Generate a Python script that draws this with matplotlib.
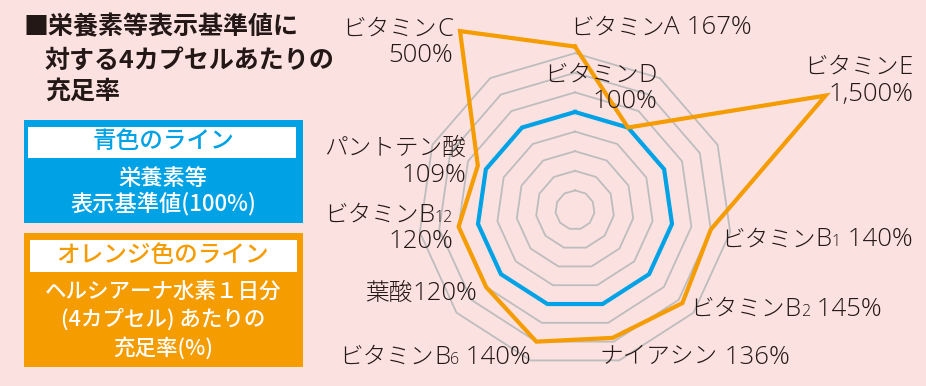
import re
import numpy as np
import matplotlib
matplotlib.use("Agg")
import matplotlib.pyplot as plt
from matplotlib.patches import Rectangle
from matplotlib.offsetbox import TextArea, HPacker, AnnotationBbox

plt.rcParams["font.family"] = ["Noto Sans CJK JP", "DejaVu Sans"]

# data, clockwise from the top
nutrients = ["ビタミンA", "ビタミンD", "ビタミンE", "ビタミンB1", "ビタミンB2", "ナイアシン",
             "ビタミンB6", "葉酸", "ビタミンB12", "パントテン酸", "ビタミンC"]
capsule_pct = [167, 100, 1500, 140, 145, 136, 140, 120, 120, 109, 500]
standard_pct = [100] * len(nutrients)
grid_levels = [20, 40, 60, 80, 100, 120, 140, 160]

title_lines = ["■栄養素等表示基準値に", "対する4カプセルあたりの", "充足率"]
blue_head = "青色のライン"
blue_body = ["栄養素等", "表示基準値(100%)"]
orange_head = "オレンジ色のライン"
orange_body = ["ヘルシアーナ水素１日分", "(4カプセル) あたりの", "充足率(%)"]

BG = "#fce1e1"
BLUE = "#00a2e6"
ORANGE = "#f49c00"
GRID = "#bdbdbd"
TXT = "#231815"

W, H = 926, 386
fig = plt.figure(figsize=(W / 100, H / 100), dpi=100)
fig.patch.set_facecolor(BG)

# radial scale: linear up to the outer ring, compressed beyond it
BREAK, K, P = 160.0, 2.324, 0.549


def fwd(v):
    v = np.asarray(v, float)
    return np.where(v <= BREAK, v, BREAK + K * np.abs(v - BREAK) ** P)


def inv(u):
    u = np.asarray(u, float)
    return np.where(u <= BREAK, u, BREAK + (np.abs(u - BREAK) / K) ** (1 / P))


cx, cy = 575, 210          # centre in image pixels (from top)
px_per = 0.98
r_top = 1600
half = float(fwd(r_top)) * px_per
ax = fig.add_axes([(cx - half) / W, (H - cy - half) / H, 2 * half / W, 2 * half / H],
                  projection="polar")
ax.set_theta_zero_location("N")
ax.set_theta_direction(-1)
ax.set_rscale("function", functions=(fwd, inv))
ax.set_ylim(0, r_top)
ax.set_axis_off()

n = len(nutrients)
theta = np.linspace(0, 2 * np.pi, n, endpoint=False)
theta_c = np.append(theta, theta[0])

for lvl in grid_levels:
    ax.plot(theta_c, [lvl] * (n + 1), color=GRID, lw=1.3, zorder=1, clip_on=False)
ax.plot(theta_c, standard_pct + standard_pct[:1], color=BLUE, lw=3.0, zorder=2,
        clip_on=False, solid_joinstyle="miter")
ax.plot(theta_c, capsule_pct + capsule_pct[:1], color=ORANGE, lw=3.0, zorder=3,
        clip_on=False, solid_joinstyle="miter")

# overlay in image pixel coords for boxes and texts
ov = fig.add_axes([0, 0, 1, 1], zorder=5)
ov.set_xlim(0, W)
ov.set_ylim(H, 0)
ov.set_axis_off()

FS_J, FS_L, FS_SUB = 17, 18.5, 11.5


def runs(text, sub=False):
    out = []
    for r in re.findall(r"[^\x00-\x7f]+|[\x00-\x7f]+", text):
        if r.isascii():
            out.append((r, FS_SUB if sub else FS_L, "Open Sans"))
        else:
            out.append((r, FS_J, "Noto Sans CJK JP"))
    return out


def mixed_line(parts, x, y, ha):
    boxes = [TextArea(t, textprops=dict(fontsize=s, color=TXT, family=[f, "DejaVu Sans"],
                                        fontweight="light")) for t, s, f in parts]
    pack = HPacker(children=boxes, align="baseline", pad=0, sep=0)
    fx = {"left": 0.0, "right": 1.0, "center": 0.5}[ha]
    ab = AnnotationBbox(pack, (x, y), xycoords=ov.transData, frameon=False,
                        box_alignment=(fx, 0.5), pad=0, zorder=6)
    ov.add_artist(ab)


def name_parts(name):
    m = re.match(r"(.*B)(\d+)$", name)
    if m:
        return runs(m.group(1)) + runs(m.group(2), sub=True)
    return runs(name)


# label layout: x, y of first line, alignment, separator between name and value
label_pos = {
    "ビタミンA": (570, 28, "left", " "),
    "ビタミンD": (657, 75, "right", "\n"),
    "ビタミンE": (913, 67, "right", "\n"),
    "ビタミンB1": (721, 240, "left", " "),
    "ビタミンB2": (690, 309, "left", " "),
    "ナイアシン": (600, 357, "left", " "),
    "ビタミンB6": (531, 357, "right", " "),
    "葉酸": (477, 293, "right", ""),
    "ビタミンB12": (453, 215, "right", "\n"),
    "パントテン酸": (466, 148, "right", "\n"),
    "ビタミンC": (453, 29, "right", "\n"),
}

for name, val in zip(nutrients, capsule_pct):
    x, y, ha, sep = label_pos[name]
    vtxt = f"{val:,}%"
    if sep == "\n":
        mixed_line(name_parts(name), x, y, ha)
        mixed_line(runs(vtxt), x, y + 27, ha)
    else:
        mixed_line(name_parts(name) + runs(sep + vtxt), x, y, ha)

# title
ov.text(24, 27, title_lines[0], fontsize=18, fontweight="bold", color=TXT, va="center", ha="left")
for i, t in enumerate(title_lines[1:]):
    ov.text(45, 61 + 31 * i, t, fontsize=18, fontweight="bold", color=TXT, va="center", ha="left")

# blue box
ov.add_patch(Rectangle((24, 120), 279, 103, facecolor=BLUE, edgecolor="none"))
ov.add_patch(Rectangle((28, 127), 268, 31, facecolor="white", edgecolor="none"))
ov.text(163, 142, blue_head, fontsize=17, fontweight="medium", color=BLUE, ha="center", va="center")
for i, t in enumerate(blue_body):
    ov.text(163, 178 + 25 * i, t, fontsize=16, fontweight="medium", color="white",
            ha="center", va="center")

# orange box
ov.add_patch(Rectangle((24, 233), 279, 134, facecolor=ORANGE, edgecolor="none"))
ov.add_patch(Rectangle((30, 240), 267, 32, facecolor="white", edgecolor="none"))
ov.text(163, 256, orange_head, fontsize=17, fontweight="medium", color=ORANGE, ha="center", va="center")
for i, t in enumerate(orange_body):
    ov.text(163, 292 + 28 * i, t, fontsize=15.5, fontweight="medium", color="white",
            ha="center", va="center")

fig.savefig("out.png", dpi=100, facecolor=BG)
